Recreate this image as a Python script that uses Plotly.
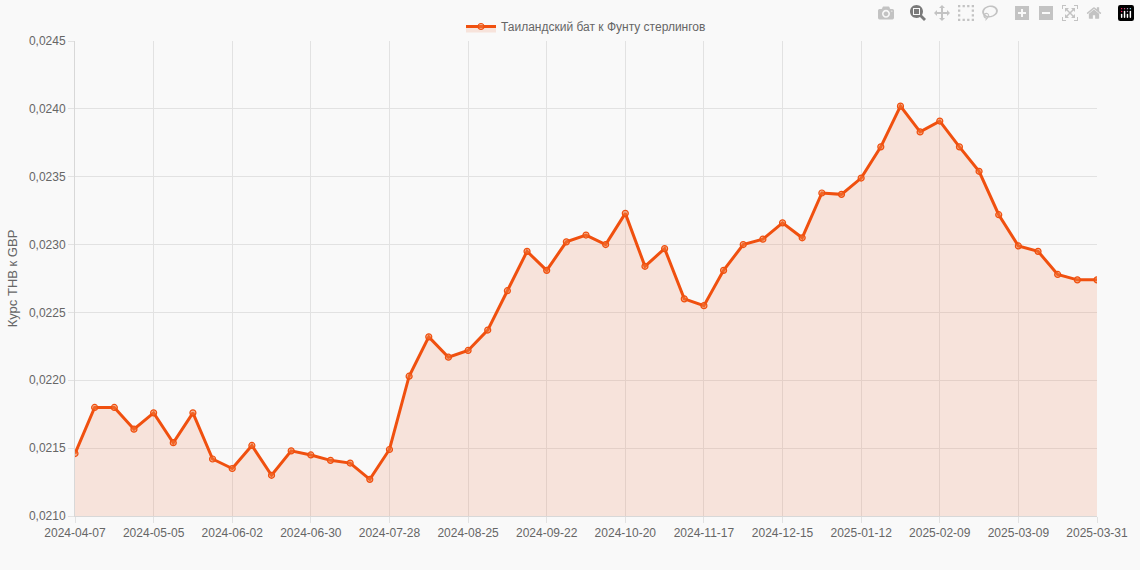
import plotly.graph_objects as go
import pandas as pd

dates = [d.strftime("%Y-%m-%d") for d in pd.date_range("2024-04-07", periods=52, freq="7D")] + ["2025-03-31"]
values = [0.02146, 0.02180, 0.02180, 0.02164, 0.02176, 0.02154, 0.02176, 0.02142, 0.02135, 0.02152,
          0.02130, 0.02148, 0.02145, 0.02141, 0.02139, 0.02127, 0.02149, 0.02203, 0.02232, 0.02217,
          0.02222, 0.02237, 0.02266, 0.02295, 0.02281, 0.02302, 0.02307, 0.02300, 0.02323, 0.02284,
          0.02297, 0.02260, 0.02255, 0.02281, 0.02300, 0.02304, 0.02316, 0.02305, 0.02338, 0.02337,
          0.02349, 0.02372, 0.02402, 0.02383, 0.02391, 0.02372, 0.02354, 0.02322, 0.02299, 0.02295,
          0.02278, 0.02274, 0.02274]
series_name = "Таиландский бат к Фунту стерлингов"
y_title = "Курс THB к GBP"
yticks = [0.0210, 0.0215, 0.0220, 0.0225, 0.0230, 0.0235, 0.0240, 0.0245]

idx = list(range(len(dates)))
tickidx = list(range(0, len(dates) - 1, 4)) + [len(dates) - 1]

fig = go.Figure(go.Scatter(
    x=idx, y=values, name=series_name, mode="lines+markers",
    line=dict(color="#f0500f", width=3),
    marker=dict(size=6, color="rgba(240,120,60,0.5)", line=dict(color="#f0500f", width=1.2)),
    fill="tozeroy", fillcolor="rgba(240,120,70,0.17)",
))
fig.update_layout(
    width=1140, height=570, paper_bgcolor="#f9f9f9", plot_bgcolor="#f9f9f9",
    margin=dict(l=75, r=34, t=32, b=54),
    font=dict(family="Liberation Sans, Arial, sans-serif", size=12, color="#666"),
    showlegend=True,
    legend=dict(orientation="h", x=0.5, xanchor="center", y=1.0, yanchor="bottom",
                font=dict(size=12, color="#666")),
    xaxis=dict(range=[0, len(dates) - 1], tickvals=[idx[i] for i in tickidx],
               ticktext=[dates[i] for i in tickidx], showgrid=True, gridcolor="#e2e2e2",
               zeroline=False, showline=True, linecolor="#d8d8d8", ticks="outside",
               ticklen=6, tickcolor="#e2e2e2", tickangle=0),
    yaxis=dict(range=[0.0210, 0.0245], tickvals=yticks,
               ticktext=[f"{v:.4f}".replace(".", ",") for v in yticks],
               showgrid=True, gridcolor="#e2e2e2", zeroline=False, showline=True,
               linecolor="#d8d8d8", ticks="outside", ticklen=6, tickcolor="#e2e2e2",
               title=dict(text=y_title, font=dict(size=13, color="#666"), standoff=8)),
)
fig.write_html("out.html", post_script="document.body.style.margin='0';document.body.style.overflow='hidden';")
